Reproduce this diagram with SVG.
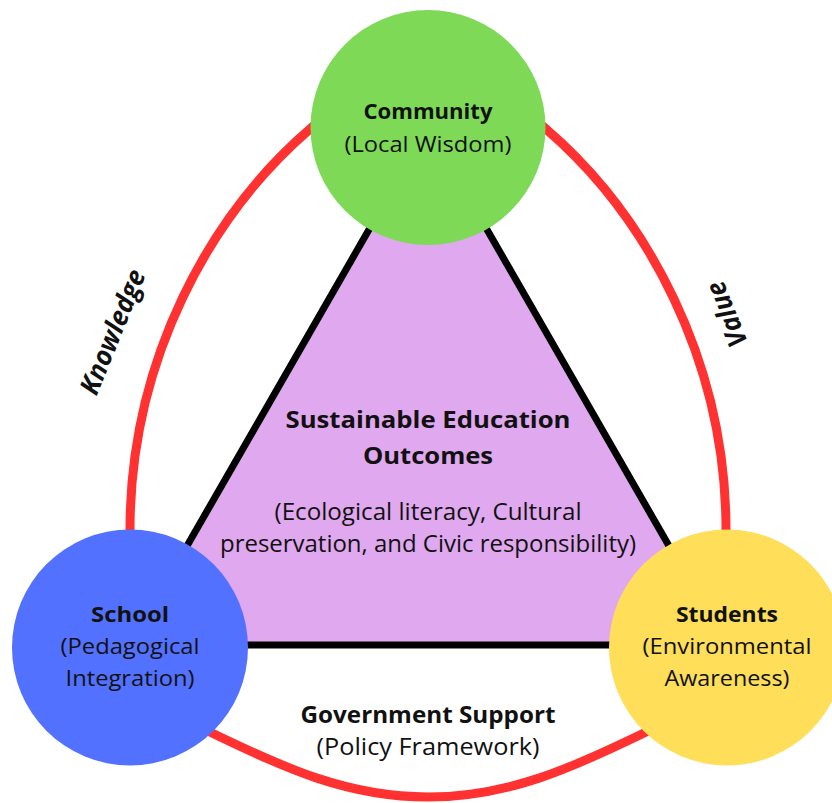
<svg xmlns="http://www.w3.org/2000/svg" width="832" height="803" viewBox="0 0 832 803">
  <style>
    .conn { fill: none; stroke: #FF3131; stroke-width: 9; }
    .tri { fill: #E0A8EE; stroke: #000000; stroke-width: 7; stroke-linejoin: round; }
    text { font-family: "Open Sans", "Liberation Sans", sans-serif; fill: #111111; text-anchor: middle; }
    .b { font-weight: 700; font-size: 21.5px; }
    .r { font-weight: 400; font-size: 22.5px; }
    .tb { font-weight: 700; font-size: 24px; }
    .tr { font-weight: 400; font-size: 23px; }
    .lab { font-weight: 700; font-size: 27px; font-style: italic; }
  </style>
  <rect width="832" height="803" fill="#FFFFFF"/>
  <g id="connectors">
    <path id="knowledge" class="conn" d="M 335 107 L 310 129 C 210 215, 130 360, 130 530 L 130 560"/>
    <path id="value" class="conn" d="M 521 107 L 546 129 C 646 215, 726 360, 726 530 L 726 560"/>
    <path id="government" class="conn" d="M 185 720 L 212 733 C 284 768, 348 797, 428 797 C 508 797, 572 768, 644 733 L 671 720"/>
    <text class="lab" transform="translate(113,332) rotate(-68)" dy="9" textLength="132" lengthAdjust="spacingAndGlyphs">Knowledge</text>
    <text class="lab" transform="translate(727,314) rotate(-112)" dy="9" textLength="68" lengthAdjust="spacingAndGlyphs">Value</text>
    <text class="tb" x="428" y="723" style="font-size:23px" textLength="255" lengthAdjust="spacingAndGlyphs">Government Support</text>
    <text class="r" x="428" y="755" style="font-size:23px" textLength="223" lengthAdjust="spacingAndGlyphs">(Policy Framework)</text>
  </g>
  <g id="outcomes">
    <polygon class="tri" points="428,127 130,645 726,645"/>
    <text class="tb" x="428" y="428" textLength="285" lengthAdjust="spacingAndGlyphs">Sustainable Education</text>
    <text class="tb" x="428" y="464" textLength="130" lengthAdjust="spacingAndGlyphs">Outcomes</text>
    <text class="tr" x="428" y="520" textLength="307" lengthAdjust="spacingAndGlyphs">(Ecological literacy, Cultural</text>
    <text class="tr" x="428" y="552" textLength="416" lengthAdjust="spacingAndGlyphs">preservation, and Civic responsibility)</text>
  </g>
  <g id="community">
    <circle cx="428" cy="127.5" r="117.5" fill="#7ED957"/>
    <text class="b" x="428" y="119" textLength="129" lengthAdjust="spacingAndGlyphs">Community</text>
    <text class="r" x="428" y="152" textLength="167" lengthAdjust="spacingAndGlyphs">(Local Wisdom)</text>
  </g>
  <g id="school">
    <circle cx="130" cy="647.5" r="118" fill="#5271FF"/>
    <text class="b" x="130" y="622" textLength="78" lengthAdjust="spacingAndGlyphs">School</text>
    <text class="r" x="130" y="654" textLength="139" lengthAdjust="spacingAndGlyphs">(Pedagogical</text>
    <text class="r" x="130" y="686" textLength="129" lengthAdjust="spacingAndGlyphs">Integration)</text>
  </g>
  <g id="students">
    <circle cx="727" cy="647.5" r="118" fill="#FFDE59"/>
    <text class="b" x="727" y="622" textLength="102" lengthAdjust="spacingAndGlyphs">Students</text>
    <text class="r" x="727" y="654" textLength="169" lengthAdjust="spacingAndGlyphs">(Environmental</text>
    <text class="r" x="727" y="686" textLength="125" lengthAdjust="spacingAndGlyphs">Awareness)</text>
  </g>
</svg>
